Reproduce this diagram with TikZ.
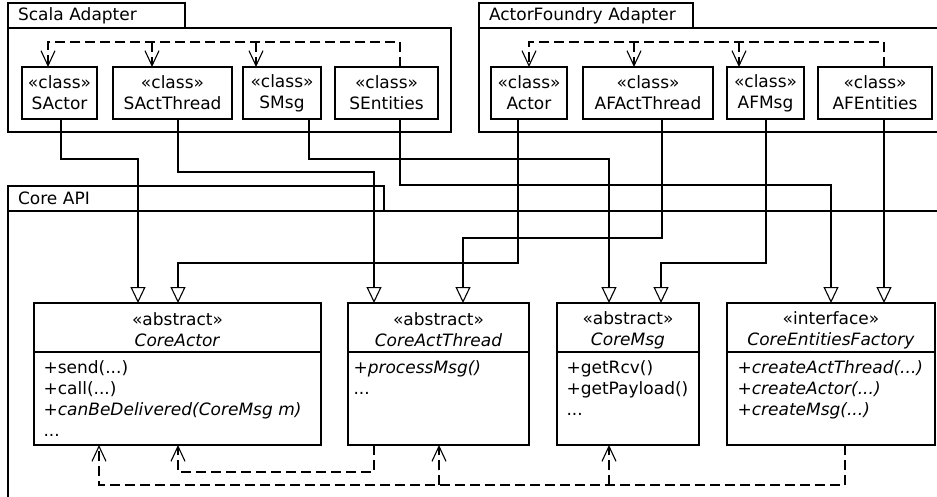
\documentclass[tikz,border=0pt]{standalone}
\usepackage{fontspec}
\setmainfont{DejaVu Sans}
\usetikzlibrary{arrows.meta,positioning,calc}

\begin{document}
\begin{tikzpicture}[
  x=1pt, y=-1pt,
  font=\fontsize{17}{21}\selectfont,
  line width=1.1pt,
  pkg/.style={draw, anchor=north west, inner sep=0pt, outer sep=0pt},
  tab/.style={draw, anchor=south west, inner xsep=10pt, inner ysep=0pt, outer sep=0pt, minimum height=25pt, align=left},
  cls/.style={draw, fill=white, align=center, minimum height=52pt, inner sep=0pt, outer sep=0pt},
  core/.style={draw, fill=white, minimum height=142pt, inner sep=0pt, outer sep=0pt},
  head/.style={align=center, inner sep=0pt},
  members/.style={anchor=north west, align=left, inner sep=0pt},
  gen/.style={-{Triangle[open, length=16pt, width=15pt]}},
  dep/.style={dash pattern=on 10pt off 5pt, -{Straight Barb[length=15pt, width=14pt]}}
]
\useasboundingbox (0,0) rectangle (937,496);
\clip (0,0) rectangle (937,496);

% packages
\node[pkg, minimum width=443pt, minimum height=104pt] (scala) at (8,28) {};
\node[tab, text width=157pt] (scalatab) at (scala.north west) {Scala Adapter};
\node[pkg, minimum width=470pt, minimum height=104pt] (af) at (479,28) {};
\node[tab, text width=194pt] (aftab) at (af.north west) {ActorFoundry Adapter};
\node[pkg, minimum width=940pt, minimum height=300pt] (corepkg) at (8,211) {};
\node[tab, text width=356pt] (coretab) at (corepkg.north west) {Core API};

% adapter classes
\node[cls, minimum width=75pt, anchor=north west] (sactor) at (22,67) {«class»\\SActor};
\node[cls, minimum width=119pt, right=16pt of sactor] (sactthread) {«class»\\SActThread};
\node[cls, minimum width=78pt, right=11pt of sactthread] (smsg) {«class»\\SMsg};
\node[cls, minimum width=103pt, right=14pt of smsg] (sentities) {«class»\\SEntities};

\node[cls, minimum width=76pt, anchor=north west] (actor) at (491,67) {«class»\\Actor};
\node[cls, minimum width=130pt, right=16pt of actor] (afactthread) {«class»\\AFActThread};
\node[cls, minimum width=77pt, right=14pt of afactthread] (afmsg) {«class»\\AFMsg};
\node[cls, minimum width=114pt, right=14pt of afmsg] (afentities) {«class»\\AFEntities};

% core classes
\node[core, minimum width=287pt, anchor=north west] (coreactor) at (34,303) {};
\node[core, minimum width=181pt, right=27pt of coreactor] (coreactthread) {};
\node[core, minimum width=142pt, right=28pt of coreactthread] (coremsg) {};
\node[core, minimum width=208pt, right=28pt of coremsg] (corefactory) {};

\node[head] (coreactor-head) at ($(coreactor.north)+(0,27)$) {«abstract»\\\textit{CoreActor}};
\draw ($(coreactor.north west)+(0,49)$) -- ($(coreactor.north east)+(0,49)$);
\node[members] (coreactor-ops) at ($(coreactor.north west)+(9,57)$)
  {+send(...)\\+call(...)\\\textit{+canBeDelivered(CoreMsg m)}\\...};

\node[head] (coreactthread-head) at ($(coreactthread.north)+(0,27)$) {«abstract»\\\textit{CoreActThread}};
\draw ($(coreactthread.north west)+(0,49)$) -- ($(coreactthread.north east)+(0,49)$);
\node[members] (coreactthread-ops) at ($(coreactthread.north west)+(5,57)$)
  {\textit{+processMsg()}\\...};

\node[head] (coremsg-head) at ($(coremsg.north)+(0,27)$) {«abstract»\\\textit{CoreMsg}};
\draw ($(coremsg.north west)+(0,49)$) -- ($(coremsg.north east)+(0,49)$);
\node[members] (coremsg-ops) at ($(coremsg.north west)+(9,57)$)
  {+getRcv()\\+getPayload()\\...};

\node[head] (corefactory-head) at ($(corefactory.north)+(0,27)$) {«interface»\\\textit{CoreEntitiesFactory}};
\draw ($(corefactory.north west)+(0,49)$) -- ($(corefactory.north east)+(0,49)$);
\node[members] (corefactory-ops) at ($(corefactory.north west)+(10,57)$)
  {\textit{+createActThread(...)}\\\textit{+createActor(...)}\\\textit{+createMsg(...)}};

% where the lines leave and enter the classes
\coordinate (sactor-out) at ($(sactor.south)+(1.5,0)$);
\coordinate (sactthread-out) at ($(sactthread.south)+(5.5,0)$);
\coordinate (smsg-out) at ($(smsg.south)+(27,0)$);
\coordinate (sentities-out) at ($(sentities.south)+(13.5,0)$);
\coordinate (actor-out) at ($(actor.south)+(-11,0)$);
\coordinate (afactthread-out) at ($(afactthread.south)+(14,0)$);
\coordinate (afmsg-out) at ($(afmsg.south)+(0.5,0)$);
\coordinate (afentities-out) at ($(afentities.south)+(9,0)$);

\coordinate (ca1) at ($(coreactor.north west)+(104,0)$);
\coordinate (ca2) at ($(coreactor.north west)+(144,0)$);
\coordinate (cat1) at ($(coreactthread.north west)+(26,0)$);
\coordinate (cat2) at ($(coreactthread.north west)+(115,0)$);
\coordinate (cm1) at ($(coremsg.north west)+(52,0)$);
\coordinate (cm2) at ($(coremsg.north west)+(104,0)$);
\coordinate (cf1) at ($(corefactory.north west)+(104,0)$);
\coordinate (cf2) at ($(corefactory.north west)+(157,0)$);

\coordinate (lane1) at (0,159);
\coordinate (lane2) at (0,172);
\coordinate (lane3) at (0,185);
\coordinate (lane4) at (0,238);
\coordinate (lane5) at (0,263);

% generalizations into the core
\draw[gen] (sactor-out) |- (lane1 -| ca1) -- (ca1);
\draw[gen] (actor-out) |- (lane5 -| ca2) -- (ca2);
\draw[gen] (sactthread-out) |- (lane2 -| cat1) -- (cat1);
\draw[gen] (afactthread-out) |- (lane4 -| cat2) -- (cat2);
\draw[gen] (smsg-out) |- (lane1 -| cm1) -- (cm1);
\draw[gen] (afmsg-out) |- (lane5 -| cm2) -- (cm2);
\draw[gen] (sentities-out) |- (lane3 -| cf1) -- (cf1);
\draw[gen] (afentities-out) -- (cf2);

% factories use the other adapter classes
\coordinate (sdep) at (0,42);
\coordinate (sactor-in) at ($(sactor.north)+(-11.5,0)$);
\coordinate (sactthread-in) at ($(sactthread.north)+(-20.5,0)$);
\coordinate (smsg-in) at ($(smsg.north)+(-26,0)$);
\draw[dep] (sentities.north -| sentities-out) |- (sdep -| sactor-in) -- (sactor-in);
\draw[dep] (sdep -| sactthread-in) -- (sactthread-in);
\draw[dep] (sdep -| smsg-in) -- (smsg-in);

\coordinate (adep) at (0,42);
\coordinate (actor-in) at (actor.north);
\coordinate (afactthread-in) at ($(afactthread.north)+(-14,0)$);
\coordinate (afmsg-in) at ($(afmsg.north)+(-26.5,0)$);
\draw[dep] (afentities.north -| afentities-out) |- (adep -| actor-in) -- (actor-in);
\draw[dep] (adep -| afactthread-in) -- (afactthread-in);
\draw[dep] (adep -| afmsg-in) -- (afmsg-in);

% dependencies inside the core
\coordinate (lane6) at (0,472);
\coordinate (lane7) at (0,485);
\coordinate (cat-out) at ($(coreactthread.south west)+(26,0)$);
\coordinate (cf-out) at ($(corefactory.south west)+(118,0)$);
\coordinate (ca-in1) at ($(coreactor.south west)+(65,0)$);
\coordinate (ca-in2) at ($(coreactor.south west)+(144,0)$);
\coordinate (cat-in) at ($(coreactthread.south west)+(91,0)$);
\coordinate (cm-in) at ($(coremsg.south west)+(52,0)$);
\draw[dep] (cat-out) |- (lane6 -| ca-in2) -- (ca-in2);
\draw[dep] (cf-out) |- (lane7 -| ca-in1) -- (ca-in1);
\draw[dep] (lane7 -| cat-in) -- (cat-in);
\draw[dep] (lane7 -| cm-in) -- (cm-in);
\end{tikzpicture}
\end{document}
